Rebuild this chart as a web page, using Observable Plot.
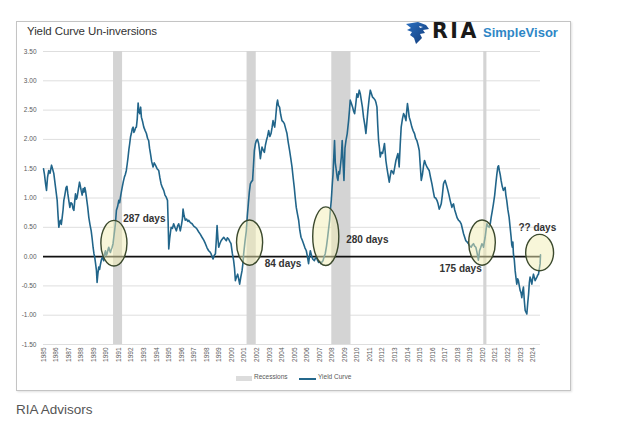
<!DOCTYPE html>
<html>
<head>
<meta charset="utf-8">
<script src="https://cdn.jsdelivr.net/npm/d3@7"></script>
<script src="https://cdn.jsdelivr.net/npm/@observablehq/plot@0.6"></script>
<style>
  html, body { margin: 0; padding: 0; background: #fff; }
  body { width: 622px; height: 445px; position: relative; overflow: hidden; font-family: "Liberation Sans", Arial, sans-serif; }
  #frame { position: absolute; left: 16px; top: 21px; width: 553px; height: 368px; border: 1px solid #c4c4c4; box-shadow: 1px 1px 2px rgba(0,0,0,0.12); background: #fff; }
  #title { position: absolute; left: 27px; top: 25px; font-size: 11.5px; color: #333; letter-spacing: -0.1px; }
  #logo { position: absolute; left: 404px; top: 20px; height: 26px; width: 160px; }
  #ria { position: absolute; left: 432px; top: 19px; font-size: 20.5px; font-weight: bold; color: #1a1a1a; letter-spacing: 2.5px; font-family: "DejaVu Sans", sans-serif; }
  #sv { position: absolute; left: 483px; top: 25px; font-size: 13px; font-weight: bold; color: #2e86c6; }
  #chart { position: absolute; left: 16px; top: 40px; }
  #legend { position: absolute; top: 373px; left: 0; width: 622px; height: 12px; font-size: 6.5px; color: #595959; }
  #caption { position: absolute; left: 16px; top: 402px; font-size: 13.5px; color: #555; }
</style>
</head>
<body>
<div id="frame"></div>
<div id="title">Yield Curve Un-inversions</div>
<svg id="logo" width="30" height="26" style="left:404px;top:20px;width:30px;">
  <defs>
    <linearGradient id="eg" x1="0" y1="0" x2="1" y2="1">
      <stop offset="0" stop-color="#2a6fc0"/>
      <stop offset="1" stop-color="#123a78"/>
    </linearGradient>
  </defs>
  <path d="M2 4 L14 2 L22 5 L25 9 L19 10 L21 13 L16 14 L18 18 L12 24 L10 18 L6 15 L8 12 L3 10 L7 8 Z" fill="url(#eg)"/>
  <path d="M15 6 L19 7 L16 8 Z" fill="#fff"/>
</svg>
<div id="ria">RIA</div>
<div id="sv">SimpleVisor</div>
<div id="chart"></div>
<div id="legend">
  <div style="position:absolute;left:236px;top:3px;width:16px;height:5px;background:#dcdcdc;"></div>
  <div style="position:absolute;left:254px;top:0px;">Recessions</div>
  <div style="position:absolute;left:299px;top:5px;width:17px;height:1.5px;background:#24688c;"></div>
  <div style="position:absolute;left:318px;top:0px;">Yield Curve</div>
</div>
<div id="caption">RIA Advisors</div>
<script>
// Yield curve (10y-2y spread)
const dates = [
1985.00,1985.08,1985.16,1985.24,1985.32,1985.42,1985.52,1985.64,1985.72,1985.82,1985.96,
1986.09,1986.16,1986.22,1986.29,1986.35,1986.42,1986.49,1986.56,1986.62,1986.70,1986.80,1986.87,1986.94,
1987.02,1987.10,1987.18,1987.28,1987.35,1987.42,1987.49,1987.55,1987.62,1987.68,1987.78,1987.87,1987.94,
1988.00,1988.08,1988.16,1988.22,1988.29,1988.35,1988.42,1988.52,1988.61,1988.70,1988.80,1988.88,1988.95,
1989.02,1989.08,1989.15,1989.22,1989.27,1989.33,1989.40,1989.47,1989.54,1989.62,1989.70,1989.80,1989.87,1989.94,
1990.00,1990.07,1990.14,1990.20,1990.27,1990.33,1990.40,1990.47,1990.54,1990.60,1990.67,1990.73,1990.81,1990.90,
1991.00,1991.07,1991.13,1991.20,1991.27,1991.36,1991.45,1991.52,1991.60,1991.67,1991.74,1991.80,1991.87,1991.94,
1992.00,1992.07,1992.14,1992.20,1992.27,1992.34,1992.40,1992.47,1992.54,1992.60,1992.67,1992.74,1992.80,1992.90,1992.99,
1993.10,1993.20,1993.29,1993.38,1993.45,1993.52,1993.62,1993.73,1993.82,1993.92,
1994.05,1994.18,1994.27,1994.37,1994.47,1994.58,1994.68,1994.79,1994.88,1994.93,1994.98,
1995.05,1995.12,1995.17,1995.27,1995.37,1995.47,1995.59,1995.68,1995.77,1995.84,1995.90,
1996.00,1996.07,1996.12,1996.20,1996.30,1996.40,1996.50,1996.57,1996.70,1996.84,1996.97,
1997.10,1997.23,1997.37,1997.50,1997.63,1997.77,1997.90,
1998.03,1998.16,1998.26,1998.35,1998.43,1998.51,1998.60,1998.70,1998.76,1998.83,1998.90,1998.96,
1999.05,1999.15,1999.25,1999.36,1999.46,1999.57,1999.65,1999.75,1999.84,1999.94,
2000.05,2000.15,2000.22,2000.29,2000.38,2000.47,2000.55,2000.63,2000.72,2000.82,2000.90,2000.95,
2001.05,2001.16,2001.24,2001.32,2001.40,2001.48,2001.57,2001.66,2001.73,2001.80,2001.88,2001.96,
2002.05,2002.14,2002.22,2002.28,2002.35,2002.41,2002.50,2002.60,2002.68,2002.76,2002.85,2002.94,
2003.04,2003.13,2003.21,2003.29,2003.36,2003.42,2003.49,2003.55,2003.60,2003.65,2003.72,2003.81,2003.90,
2004.00,2004.10,2004.19,2004.30,2004.40,2004.50,2004.61,2004.70,2004.80,2004.89,2004.98,
2005.06,2005.14,2005.24,2005.33,2005.42,2005.52,2005.62,2005.72,2005.83,2005.94,
2006.03,2006.12,2006.19,2006.26,2006.33,2006.39,2006.48,2006.58,2006.66,2006.74,2006.83,2006.92,
2007.01,2007.11,2007.19,2007.27,2007.36,2007.45,2007.55,2007.64,2007.72,2007.80,2007.86,2007.93,
2008.00,2008.07,2008.13,2008.19,2008.25,2008.33,2008.40,2008.46,2008.53,2008.59,2008.66,2008.73,2008.80,2008.87,2008.94,
2009.02,2009.10,2009.20,2009.31,2009.38,2009.44,2009.52,2009.63,2009.71,2009.79,2009.88,2009.97,
2010.06,2010.16,2010.24,2010.32,2010.41,2010.50,2010.60,2010.69,2010.77,2010.85,2010.95,
2011.04,2011.13,2011.22,2011.32,2011.43,2011.50,2011.57,2011.63,2011.70,2011.77,2011.83,2011.92,
2012.02,2012.10,2012.17,2012.22,2012.28,2012.36,2012.44,2012.55,2012.63,2012.71,2012.80,2012.89,2012.98,
2013.08,2013.16,2013.24,2013.29,2013.34,2013.42,2013.50,2013.60,2013.69,2013.78,2013.88,2013.94,
2014.00,2014.07,2014.14,2014.25,2014.35,2014.45,2014.56,2014.65,2014.75,2014.85,2014.94,
2015.02,2015.10,2015.20,2015.28,2015.36,2015.45,2015.55,2015.64,2015.73,2015.84,2015.95,
2016.05,2016.15,2016.25,2016.35,2016.44,2016.53,2016.61,2016.69,2016.78,2016.87,2016.94,
2017.00,2017.11,2017.22,2017.31,2017.40,2017.47,2017.54,2017.60,2017.67,2017.76,2017.86,2017.96,
2018.07,2018.17,2018.28,2018.37,2018.47,2018.56,2018.65,2018.75,2018.86,2018.97,
2019.08,2019.17,2019.26,2019.35,2019.45,2019.53,2019.61,2019.65,2019.70,2019.74,2019.83,2019.93,
2020.00,2020.06,2020.12,2020.19,2020.26,2020.33,2020.42,2020.51,2020.59,2020.67,2020.76,2020.85,2020.95,
2021.04,2021.12,2021.20,2021.26,2021.32,2021.39,2021.46,2021.55,2021.64,2021.71,2021.78,2021.84,2021.91,
2022.00,2022.10,2022.18,2022.26,2022.31,2022.36,2022.40,2022.44,2022.51,2022.58,2022.64,2022.71,2022.78,2022.84,2022.91,2022.98,
2023.05,2023.11,2023.17,2023.24,2023.31,2023.38,2023.45,2023.51,2023.58,2023.65,2023.71,2023.77,2023.84,2023.91,2023.97,
2024.04,2024.10,2024.17,2024.24,2024.31,2024.37,2024.44,2024.50,2024.57,2024.60
];
const spread = [
1.50,1.40,1.25,1.13,1.35,1.47,1.42,1.56,1.50,1.42,1.18,
0.96,0.70,0.50,0.58,0.62,0.55,0.67,0.80,0.96,1.05,1.18,1.20,1.07,
0.95,0.84,0.92,0.90,0.82,0.79,0.95,1.07,0.98,1.01,1.15,1.27,1.20,
1.13,1.05,1.16,1.10,1.18,1.12,1.01,0.85,0.67,0.55,0.44,0.30,0.16,
0.05,-0.01,-0.12,-0.24,-0.44,-0.30,-0.18,-0.22,-0.13,-0.05,-0.01,-0.07,0.05,0.10,
0.02,0.05,0.12,0.16,0.10,0.07,0.12,0.16,0.22,0.33,0.45,0.56,0.79,0.85,
0.96,0.92,1.01,1.10,1.18,1.28,1.36,1.40,1.47,1.58,1.70,1.82,1.93,2.05,
2.10,2.18,2.21,2.12,2.15,2.20,2.21,2.35,2.62,2.48,2.44,2.55,2.38,2.30,2.21,
2.15,2.10,2.02,1.98,1.85,1.76,1.62,1.53,1.60,1.56,
1.50,1.47,1.35,1.24,1.18,1.13,1.05,1.01,0.96,0.60,0.13,
0.30,0.42,0.50,0.48,0.56,0.50,0.44,0.52,0.56,0.50,0.44,
0.55,0.65,0.81,0.70,0.62,0.64,0.60,0.62,0.58,0.56,0.52,
0.50,0.47,0.42,0.38,0.33,0.28,0.22,
0.15,0.10,0.08,0.05,0.00,-0.04,0.02,0.05,0.25,0.53,0.30,0.16,
0.22,0.27,0.30,0.33,0.30,0.27,0.32,0.30,0.26,0.22,
0.05,-0.07,-0.20,-0.41,-0.35,-0.30,-0.38,-0.47,-0.35,-0.24,-0.10,0.05,
0.25,0.44,0.70,0.90,1.10,1.24,1.28,1.30,1.55,1.81,1.92,1.98,
2.00,1.93,1.80,1.67,1.78,1.87,1.82,1.78,1.90,1.98,2.05,2.15,
2.05,2.10,2.20,2.32,2.25,2.21,2.35,2.50,2.62,2.67,2.58,2.55,2.42,
2.32,2.30,2.27,2.18,2.10,1.95,1.81,1.68,1.53,1.35,1.18,
1.00,0.84,0.72,0.62,0.45,0.33,0.28,0.22,0.15,0.10,
0.00,-0.12,0.00,0.10,0.04,-0.01,-0.05,-0.07,-0.03,-0.01,-0.06,-0.10,
-0.08,-0.12,-0.09,-0.07,0.00,0.05,0.18,0.33,0.48,0.62,0.80,0.96,
1.20,1.41,1.70,1.98,1.60,1.47,1.35,1.30,1.45,1.41,1.55,1.70,1.98,1.60,1.30,
1.85,1.98,2.10,2.32,2.50,2.67,2.62,2.55,2.48,2.44,2.60,2.78,
2.72,2.84,2.78,2.67,2.55,2.38,2.25,2.10,2.30,2.50,2.70,
2.84,2.78,2.72,2.70,2.67,2.62,2.55,2.25,1.98,1.85,1.70,1.78,
1.76,1.85,1.93,1.80,1.64,1.52,1.41,1.27,1.38,1.47,1.45,1.41,1.52,
1.64,1.70,1.76,1.65,1.53,1.90,2.21,2.35,2.44,2.40,2.32,2.48,
2.61,2.50,2.38,2.30,2.21,2.15,2.10,2.02,1.98,1.90,1.81,
1.55,1.30,1.41,1.55,1.64,1.58,1.53,1.50,1.47,1.35,1.24,
1.12,1.01,1.00,0.96,0.90,0.81,0.85,0.90,1.05,1.24,1.28,
1.30,1.22,1.13,1.05,0.96,0.90,0.84,0.88,0.90,0.80,0.73,0.66,
0.62,0.60,0.56,0.48,0.39,0.33,0.27,0.25,0.22,0.18,
0.16,0.20,0.22,0.18,0.16,0.08,-0.01,-0.06,0.02,0.10,0.15,0.22,
0.20,0.16,0.25,0.33,0.45,0.56,0.52,0.50,0.55,0.67,0.78,0.90,1.05,
1.24,1.40,1.53,1.55,1.47,1.40,1.30,1.20,1.13,1.15,1.18,1.05,0.96,
0.80,0.67,0.50,0.33,0.20,0.16,0.25,0.05,-0.05,-0.24,-0.35,-0.47,-0.38,-0.41,-0.50,-0.58,
-0.62,-0.70,-0.60,-0.52,-0.75,-0.92,-0.95,-0.98,-0.80,-0.64,-0.45,-0.35,-0.40,-0.47,-0.38,
-0.30,-0.35,-0.41,-0.38,-0.35,-0.32,-0.30,-0.22,-0.12,0.03
];

// Recessions (start, end in decimal years)
const recessionStart = [1990.58, 2001.22, 2007.97, 2020.08];
const recessionEnd   = [1991.30, 2001.95, 2009.50, 2020.33];

// Highlighted un-inversion zones (ellipse extents)
const zoneX1 = [1989.61, 2000.42, 2006.49, 2018.92, 2023.46];
const zoneX2 = [1991.69, 2002.50, 2008.57, 2021.04, 2025.68];
const zoneY1 = [-0.17, -0.155, -0.16, -0.155, -0.25];
const zoneY2 = [0.61, 0.615, 0.84, 0.615, 0.37];

// Annotation labels
const noteText = ["287 days", "84 days", "280 days", "175 days", "?? days"];
const noteX = [1991.35, 2002.62, 2009.12, 2016.55, 2022.84];
const noteY = [0.64, -0.13, 0.28, -0.20, 0.49];

// Axis ticks
const yTicks = [-1.5, -1.0, -0.5, 0, 0.5, 1.0, 1.5, 2.0, 2.5, 3.0, 3.5];
const xTicks = d3.range(1985, 2025);

const series = dates.map((d, i) => ({date: d, value: spread[i]}));
const recessions = recessionStart.map((s, i) => ({start: s, end: recessionEnd[i]}));
const zones = zoneX1.map((x1, i) => ({x1, x2: zoneX2[i], y1: zoneY1[i], y2: zoneY2[i]}));
const notes = noteText.map((t, i) => ({text: t, x: noteX[i], y: noteY[i]}));

const chart = Plot.plot({
  width: 550,
  height: 330,
  marginLeft: 27,
  marginRight: 26,
  marginTop: 11,
  marginBottom: 26,
  style: {fontFamily: "Liberation Sans, Arial, sans-serif", fontSize: "6.5px", color: "#5a5a5a", background: "transparent"},
  x: {domain: [1985, 2024.6], ticks: xTicks, tickFormat: d => String(d), tickRotate: -90, tickSize: 0, tickPadding: 3, label: null},
  y: {domain: [-1.5, 3.5], ticks: yTicks, tickFormat: d => d.toFixed(2), tickSize: 0, tickPadding: 7, label: null},
  marks: [
    Plot.ruleY(yTicks, {stroke: "#dedede", strokeWidth: 1}),
    Plot.rect(recessions, {x1: "start", x2: "end", fill: "#d4d4d4"}),
    Plot.ruleY([0], {stroke: "#111", strokeWidth: 1.6}),
    Plot.line(series, {x: "date", y: "value", stroke: "#21658a", strokeWidth: 1.6, strokeLinejoin: "round"}),
    Plot.rect(zones, {x1: "x1", x2: "x2", y1: "y1", y2: "y2", fill: "#f2eeb4", fillOpacity: 0.5, stroke: "#3c4a2e", strokeWidth: 1.4, rx: 200, ry: 200}),
    Plot.text(notes, {x: "x", y: "y", text: "text", textAnchor: "start", fontSize: 10, fontWeight: "bold", fill: "#333"})
  ]
});
document.getElementById("chart").appendChild(chart);
</script>
</body>
</html>
